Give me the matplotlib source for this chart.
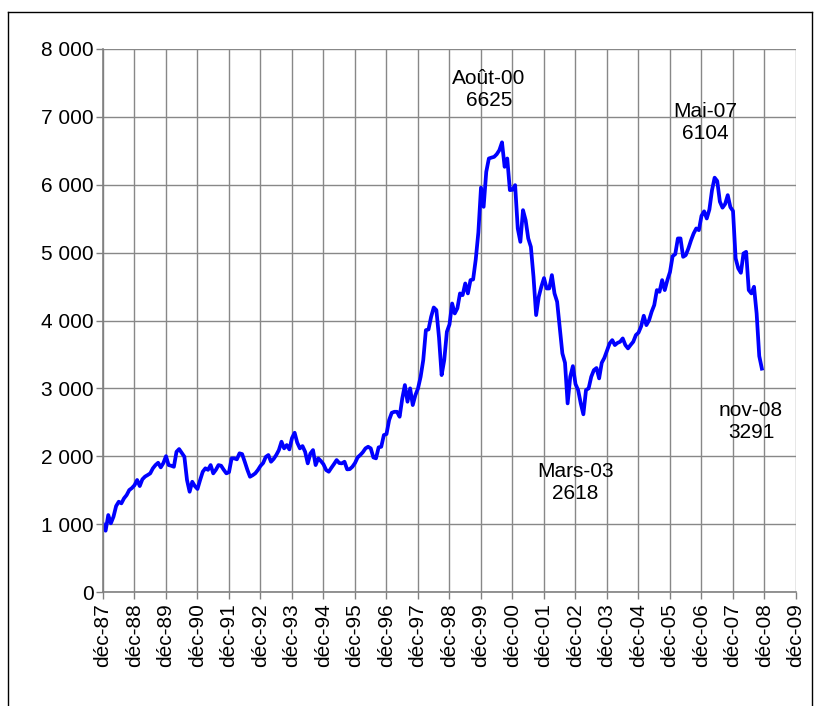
import matplotlib
matplotlib.use("Agg")
import matplotlib.pyplot as plt
from matplotlib.ticker import FuncFormatter, MultipleLocator
from matplotlib.lines import Line2D

plt.rcParams['font.family'] = ['Liberation Sans', 'DejaVu Sans']

# Monthly closing values, déc-87 .. nov-08
v1987 = [1000]
v1988 = [903, 1134, 1012, 1110, 1266, 1330, 1306, 1380, 1428, 1502, 1531, 1573]
v1989 = [1650, 1561, 1660, 1700, 1723, 1748, 1822, 1870, 1904, 1836, 1900, 2001]
v1990 = [1870, 1860, 1845, 2066, 2106, 2050, 1993, 1650, 1477, 1624, 1560, 1518]
v1991 = [1650, 1772, 1822, 1800, 1870, 1748, 1800, 1870, 1860, 1800, 1748, 1766]
v1992 = [1969, 1969, 1955, 2043, 2032, 1919, 1800, 1698, 1720, 1748, 1797, 1858]
v1993 = [1900, 1990, 2018, 1919, 1960, 2018, 2091, 2214, 2116, 2165, 2101, 2268]
v1994 = [2346, 2200, 2116, 2150, 2066, 1895, 2040, 2091, 1870, 1969, 1930, 1881]
v1995 = [1797, 1772, 1830, 1885, 1944, 1900, 1895, 1919, 1807, 1810, 1845, 1900]
v1996 = [1983, 2018, 2060, 2116, 2140, 2116, 1983, 1969, 2131, 2140, 2312, 2327]
v1997 = [2533, 2640, 2655, 2655, 2582, 2850, 3049, 2803, 3000, 2754, 2900, 2999]
v1998 = [3171, 3417, 3858, 3868, 4054, 4192, 4153, 3750, 3196, 3417, 3834, 3943]
v1999 = [4251, 4104, 4180, 4399, 4374, 4546, 4399, 4595, 4605, 4900, 5300, 5958]
v2000 = [5675, 6190, 6387, 6400, 6411, 6450, 6510, 6625, 6264, 6387, 5921, 5926]
v2001 = [5994, 5356, 5159, 5626, 5479, 5209, 5085, 4644, 4080, 4349, 4500, 4625]
v2002 = [4472, 4472, 4669, 4399, 4276, 3900, 3515, 3377, 2779, 3171, 3328, 3064]
v2003 = [2975, 2779, 2618, 2975, 3000, 3171, 3269, 3300, 3147, 3377, 3450, 3558]
v2004 = [3662, 3711, 3638, 3670, 3687, 3736, 3638, 3589, 3640, 3687, 3785, 3821]
v2005 = [3913, 4070, 3932, 4000, 4128, 4227, 4448, 4423, 4595, 4448, 4595, 4715]
v2006 = [4947, 4978, 5209, 5209, 4938, 4963, 5061, 5180, 5282, 5356, 5331, 5542]
v2007 = [5608, 5503, 5634, 5920, 6104, 6054, 5751, 5662, 5716, 5847, 5670, 5614]
v2008 = [4915, 4768, 4703, 4988, 5012, 4448, 4399, 4497, 4104, 3476, 3291]

values = (v1987 + v1988 + v1989 + v1990 + v1991 + v1992 + v1993 + v1994 + v1995
          + v1996 + v1997 + v1998 + v1999 + v2000 + v2001 + v2002 + v2003 + v2004
          + v2005 + v2006 + v2007 + v2008)

tick_labels = ["déc-87", "déc-88", "déc-89", "déc-90", "déc-91", "déc-92", "déc-93",
               "déc-94", "déc-95", "déc-96", "déc-97", "déc-98", "déc-99", "déc-00",
               "déc-01", "déc-02", "déc-03", "déc-04", "déc-05", "déc-06", "déc-07",
               "déc-08", "déc-09"]

annotations = [("Août-00", "6625"),
               ("Mai-07", "6104"),
               ("Mars-03", "2618"),
               ("nov-08", "3291")]
label_pos = {"Août-00": (147.0, 7410),
             "Mai-07": (229.4, 6918),
             "Mars-03": (180.0, 1620),
             "nov-08": (246.9, 2505)}

fig = plt.figure(figsize=(8.2, 7.06), dpi=100)
ax = fig.add_axes([103/820, 1-592/706, (796-103)/820, (592-49)/706])

x = list(range(len(values)))
ax.plot(x, values, color='#0000FF', linewidth=2.7, solid_joinstyle='round')

ax.set_xlim(0, 264)
ax.set_ylim(0, 8000)
ax.set_xticks(range(0, 265, 12))
ax.set_xticklabels(tick_labels, rotation=90, fontsize=15)
ax.yaxis.set_major_locator(MultipleLocator(1000))
ax.yaxis.set_major_formatter(FuncFormatter(lambda v, p: f"{int(v):,}".replace(",", " ")))
ax.tick_params(axis='y', labelsize=15, direction='out', length=5, width=1, color='#808080', pad=1.5)
ax.tick_params(axis='x', direction='out', length=5, width=1, color='#808080', pad=3)

ax.grid(True, color='#888888', linewidth=1.0)
ax.set_axisbelow(True)
for s in ['top', 'right']:
    ax.spines[s].set_visible(False)
for s in ['left', 'bottom']:
    ax.spines[s].set_color('#808080')
    ax.spines[s].set_linewidth(1.2)

for name, val in annotations:
    lx, ly = label_pos[name]
    ax.text(lx, ly, name + "\n" + val, ha='center', va='center', fontsize=15,
            linespacing=1.2, color='black')

# outer chart border
fig.add_artist(Line2D([8/820, 8/820], [0, 1-12/706], transform=fig.transFigure, color='black', lw=1))
fig.add_artist(Line2D([8/820, 812/820], [1-12/706, 1-12/706], transform=fig.transFigure, color='black', lw=1))
fig.add_artist(Line2D([812/820, 812/820], [0, 1-12/706], transform=fig.transFigure, color='black', lw=1))

fig.savefig("out.png", dpi=100)
